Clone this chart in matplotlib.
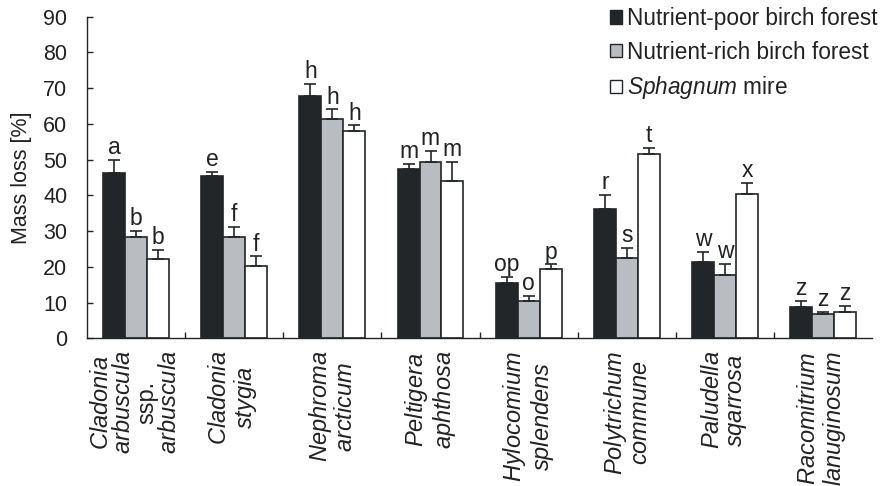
import matplotlib
matplotlib.use("Agg")
import matplotlib.pyplot as plt
import numpy as np
from matplotlib.patches import Patch

plt.rcParams['font.family'] = ['Liberation Sans', 'DejaVu Sans']
plt.rcParams['mathtext.fontset'] = 'custom'
plt.rcParams['mathtext.it'] = 'Liberation Sans:italic'
plt.rcParams['mathtext.rm'] = 'Liberation Sans'

categories = [
    "$\\it{Cladonia}$\n$\\it{arbuscula}$\nssp.\n$\\it{arbuscula}$",
    "$\\it{Cladonia}$\n$\\it{stygia}$",
    "$\\it{Nephroma}$\n$\\it{arcticum}$",
    "$\\it{Peltigera}$\n$\\it{aphthosa}$",
    "$\\it{Hylocomium}$\n$\\it{splendens}$",
    "$\\it{Polytrichum}$\n$\\it{commune}$",
    "$\\it{Paludella}$\n$\\it{sqarrosa}$",
    "$\\it{Racomitrium}$\n$\\it{lanuginosum}$",
]
series_names = ["Nutrient-poor birch forest", "Nutrient-rich birch forest", "$\\it{Sphagnum}$ mire"]

poor = [46.3, 45.4, 67.8, 47.3, 15.5, 36.1, 21.3, 8.8]
rich = [28.4, 28.4, 61.4, 49.3, 10.5, 22.6, 17.7, 6.9]
mire = [22.2, 20.3, 57.9, 44.0, 19.4, 51.6, 40.4, 7.4]
poor_err = [3.6, 1.2, 3.4, 1.5, 1.7, 4.1, 2.9, 1.6]
rich_err = [1.7, 2.7, 2.7, 3.2, 1.3, 2.7, 3.1, 0.5]
mire_err = [2.5, 2.6, 1.7, 5.3, 1.3, 1.7, 3.1, 1.7]
poor_letters = ["a", "e", "h", "m", "op", "r", "w", "z"]
rich_letters = ["b", "f", "h", "m", "o", "s", "w", "z"]
mire_letters = ["b", "f", "h", "m", "p", "t", "x", "z"]

values = [poor, rich, mire]
errors = [poor_err, rich_err, mire_err]
letters = [poor_letters, rich_letters, mire_letters]
colors = ["#222629", "#b9bcc1", "#ffffff"]
edge = "#222629"
txt = "#222222"
fs = 15.5

fig = plt.figure(figsize=(8.87, 4.86), dpi=100)
ax = fig.add_axes([86.8/887, 1-338.3/486, (872.4-86.8)/887, (338.3-16.7)/486])

x = np.arange(len(categories))
w = 0.224
for i in range(3):
    xs = x + (i - 1) * w
    ax.bar(xs, values[i], width=w, color=colors[i], edgecolor=edge, linewidth=1.2, zorder=2)
    ax.errorbar(xs, values[i], yerr=[np.zeros(len(x)), errors[i]], fmt='none',
                ecolor=edge, elinewidth=1.2, capsize=4, capthick=1.2, zorder=3)
    for xx, v, e, l in zip(xs, values[i], errors[i], letters[i]):
        ax.annotate(l, (xx, v + e), xytext=(0, 0.5), textcoords='offset points',
                    ha='center', va='bottom', fontsize=16.5, color=txt)

ax.set_xlim(-0.5, len(categories) - 0.5)
ax.set_ylim(0, 90)
ax.set_yticks(np.arange(0, 91, 10))
ax.tick_params(axis='y', direction='in', length=4, width=1.0, labelsize=fs,
               colors=edge, labelcolor=txt, pad=14)
ax.set_xticks(x)
ax.set_xticklabels(categories, rotation=90, ha='center', va='top',
                   multialignment='center', fontsize=17, color=txt, linespacing=1.05)
ax.set_xticks(np.arange(0.5, len(categories) - 0.5, 1), minor=True)
ax.tick_params(axis='x', which='major', length=0, pad=9)
ax.tick_params(axis='x', which='minor', direction='in', length=4, width=1.0, colors=edge)
for s in ['top', 'right']:
    ax.spines[s].set_visible(False)
for s in ['left', 'bottom']:
    ax.spines[s].set_color(edge)
    ax.spines[s].set_linewidth(1.0)

ax.set_ylabel("Mass loss [%]", fontsize=fs, color=txt, labelpad=8)

handles = [Patch(facecolor=c, edgecolor=edge, linewidth=1.0) for c in colors]
leg = fig.legend(handles, series_names, loc='upper left', bbox_to_anchor=(610/887, 0.9856),
                 frameon=False, fontsize=16.3, handlelength=0.52, handleheight=0.52,
                 handletextpad=0.22, labelspacing=0.47, borderaxespad=0, borderpad=0)
for t in leg.get_texts():
    t.set_color(txt)

fig.savefig("out.png", dpi=100)
